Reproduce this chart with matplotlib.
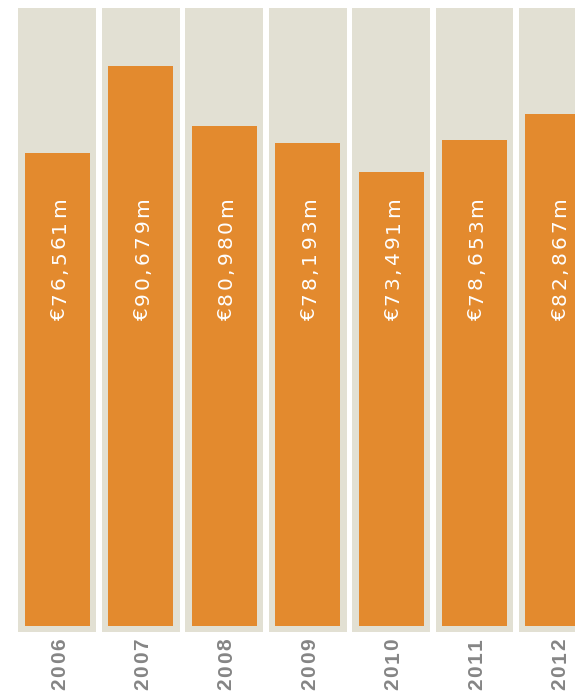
import matplotlib.pyplot as plt
from matplotlib import transforms
from matplotlib.font_manager import FontProperties
from matplotlib.textpath import TextToPath

years = ['2006', '2007', '2008', '2009', '2010', '2011', '2012']
values = [76561, 90679, 80980, 78193, 73491, 78653, 82867]  # € million
labels = ['€76,561m', '€90,679m', '€80,980m', '€78,193m',
          '€73,491m', '€78,653m', '€82,867m']

ymax = 100000
pad = 970  # background strip sticks out a little below the bars
DPI = 100
PX = 72 / DPI  # one pixel in points

t2p = TextToPath()


def vertical_spaced(ax, x, y, s, prop, spacing, color, base_trans, anchor='center', dy=0):
    """Draw s rotated 90deg, one glyph at a time, with extra tracking (points)."""
    widths = [t2p.get_text_width_height_descent(c, prop, ismath=False)[0] for c in s]
    cap = t2p.get_text_width_height_descent('0', prop, ismath=False)[1]
    total = sum(widths) + spacing * (len(s) - 1)
    if anchor == 'center':
        start = dy - total / 2
    else:  # top
        start = dy - total
    pos = start
    for c, w in zip(s, widths):
        tr = transforms.offset_copy(base_trans, fig=ax.figure, x=cap / 2,
                                    y=pos + w / 2, units='points')
        ax.text(x, y, c, transform=tr, rotation=90, rotation_mode='anchor',
                ha='center', va='baseline', fontproperties=prop, color=color,
                clip_on=False)
        pos += w + spacing


fig = plt.figure(figsize=(5.75, 6.99), dpi=DPI)
ax = fig.add_axes([0, 67 / 699, 1, 624 / 699])

x = range(len(years))
ax.bar(x, ymax + pad, bottom=-pad, width=0.935, color='#e2e0d3', align='center')
ax.bar(x, values, width=0.78, color='#e38a2e')

ax.set_xlim(-0.689, 6.205)
ax.set_ylim(-pad, ymax)
ax.set_xticks([])
ax.set_yticks([])
for s in ax.spines.values():
    s.set_visible(False)

val_prop = FontProperties(family='DejaVu Sans', weight='normal', size=14.5)
for i, lab in enumerate(labels):
    vertical_spaced(ax, i, 59385, lab, val_prop, 3.0 * PX, 'white', ax.transData)

year_prop = FontProperties(family='Liberation Sans', weight='bold', size=15)
xaxis_trans = ax.get_xaxis_transform()
for i, yr in enumerate(years):
    vertical_spaced(ax, i, 0, yr, year_prop, 2.0 * PX, '#858585', xaxis_trans,
                    anchor='top', dy=-6 * PX)

fig.savefig('out.png', dpi=DPI)
